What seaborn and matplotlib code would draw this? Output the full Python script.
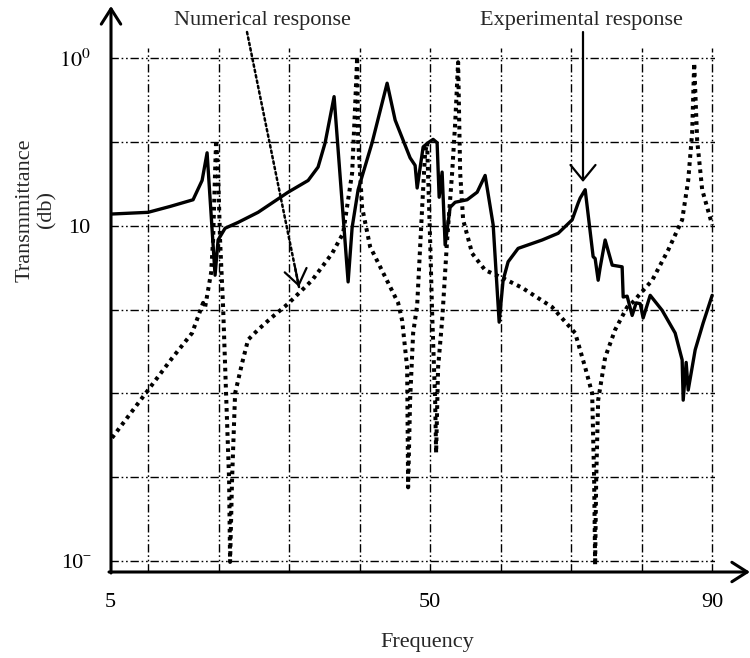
import numpy as np
import pandas as pd
import matplotlib
matplotlib.use("Agg")
import matplotlib.pyplot as plt
import seaborn as sns

# ---- data (frequency, log10 transmittance) ----
exp_freq = [4.89, 10.00, 13.12, 16.38, 17.66, 18.37, 19.50, 19.93, 20.92, 22.77, 25.60,
            29.86, 32.70, 34.11, 35.11, 36.38, 38.37, 38.94, 39.79, 41.77, 43.90,
            45.04, 47.16, 47.87, 48.16, 49.01, 49.72, 50.43, 50.99, 51.28, 51.70,
            52.13, 52.84, 53.55, 55.25, 56.67, 57.80, 58.94, 59.79, 60.35, 61.06,
            62.48, 65.89, 68.16, 70.14, 70.99, 71.28, 71.99, 73.12, 73.40, 73.83,
            74.11, 74.82, 75.82, 77.23, 77.38, 77.94, 78.65, 79.22, 79.79, 80.21,
            81.21, 82.91, 84.75, 85.74, 85.89, 86.31, 86.60, 87.59, 88.72, 90.00]
exp_log = [4.14, 4.16, 4.23, 4.31, 4.54, 4.87, 3.41, 3.83, 3.97, 4.04, 4.16,
           4.40, 4.54, 4.70, 4.99, 5.54, 3.33, 3.98, 4.43, 4.99, 5.70,
           5.26, 4.81, 4.72, 4.45, 4.94, 4.99, 5.03, 4.99, 4.34, 4.64,
           3.77, 4.22, 4.28, 4.31, 4.40, 4.60, 4.01, 2.85, 3.35, 3.57,
           3.73, 3.83, 3.91, 4.07, 4.27, 4.33, 4.43, 3.63, 3.61, 3.35,
           3.50, 3.83, 3.53, 3.51, 3.15, 3.16, 2.93, 3.08, 3.07, 2.90,
           3.17, 2.99, 2.72, 2.40, 1.92, 2.37, 2.04, 2.52, 2.84, 3.17]

num_freq = [4.89, 10.00, 13.40, 16.24, 17.80, 18.09, 18.94, 19.22, 19.50, 19.65,
            19.93, 20.21, 20.64, 21.06, 21.49, 21.63, 21.91, 22.34, 23.33, 24.18,
            25.60, 27.59, 29.86, 33.26, 36.10, 37.66, 38.94, 39.36, 39.65, 39.79,
            40.35, 41.49, 44.04, 45.46, 46.03, 46.74, 46.88, 47.16, 47.59, 48.16,
            48.87, 49.29, 49.57, 50.00, 50.28, 50.71, 50.85, 51.13, 51.70, 51.84,
            52.41, 53.12, 53.55, 53.97, 54.26, 54.68, 55.96, 57.80, 60.21, 63.05,
            67.30, 70.57, 71.99, 72.98, 73.26, 73.40, 73.55, 73.83, 74.82, 76.24,
            77.94, 78.65, 81.49, 83.76, 85.74, 86.60, 87.16, 87.45, 87.87, 88.58, 90.00]
num_log = [1.47, 2.04, 2.42, 2.72, 3.08, 3.03, 3.44, 3.83, 4.63, 5.02,
           4.63, 3.83, 3.03, 2.00, 0.97, -0.01, 0.97, 2.00, 2.36, 2.64,
           2.76, 2.91, 3.07, 3.35, 3.67, 3.91, 4.63, 5.42, 6.01, 5.02,
           4.22, 3.75, 3.32, 3.08, 2.87, 2.31, 0.88, 1.92, 2.72, 3.05,
           4.22, 4.87, 4.99, 3.83, 2.97, 1.92, 1.29, 2.31, 2.87, 3.05,
           3.83, 4.63, 5.22, 5.95, 4.63, 4.07, 3.67, 3.47, 3.38, 3.26,
           3.03, 2.72, 2.31, 2.00, 0.97, -0.05, 0.97, 1.92, 2.43, 2.76,
           3.03, 3.08, 3.35, 3.71, 4.07, 4.54, 5.11, 5.94, 5.02, 4.43, 4.01]

grid_x = [10, 20, 30, 40, 50, 60, 70, 80, 90]
grid_level = [0, 1, 2, 3, 4, 5, 6]
x_ticks = [4.6, 50, 90]
x_tick_labels = ["5", "50", "90"]
y_ticks = [0, 4, 6]
y_tick_labels = ["10\u02c9", "10", r"$10^{0}$"]

# offset so that top grid line is 10^0
OFFSET = 6

sns.set_theme(style="white")
plt.rcParams["font.family"] = ["Liberation Serif", "DejaVu Serif"]
plt.rcParams["mathtext.fontset"] = "stix"

fig = plt.figure(figsize=(7.5, 6.58), dpi=100)
W, H = 750, 658
ax = fig.add_axes([110 / W, 1 - 572 / H, (715 - 110) / W, (572 - 48) / H])

df_exp = pd.DataFrame({"Frequency": exp_freq,
                       "T": 10.0 ** (np.array(exp_log) - OFFSET)})
df_num = pd.DataFrame({"Frequency": num_freq,
                       "T": 10.0 ** (np.array(num_log) - OFFSET)})

ax.set_yscale("log")
ax.set_xlim(4.6, 90.4)
ax.set_ylim(10 ** (-0.13 - OFFSET), 10 ** (6.12 - OFFSET))

grid_dash = (0, (6, 2, 1.2, 2, 1.2, 2))
for gx in grid_x:
    ax.axvline(gx, color="black", lw=1.0, linestyle=grid_dash, zorder=1)
for gl in grid_level:
    ax.axhline(10.0 ** (gl - OFFSET), color="black", lw=1.0, linestyle=grid_dash, zorder=1)

sns.lineplot(data=df_num, x="Frequency", y="T", ax=ax, sort=False, estimator=None,
             color="black", lw=2.9, linestyle=(0, (0.9, 1.1)), zorder=3)
sns.lineplot(data=df_exp, x="Frequency", y="T", ax=ax, sort=False, estimator=None,
             color="black", lw=2.4, zorder=4)

for s in ax.spines.values():
    s.set_visible(False)
ax.grid(False)

ax.set_xticks(x_ticks)
ax.set_xticklabels(x_tick_labels)
ax.set_yticks([10.0 ** (v - OFFSET) for v in y_ticks])
ax.set_yticklabels(y_tick_labels)
ax.yaxis.set_minor_locator(matplotlib.ticker.NullLocator())
ax.tick_params(axis="x", length=0, pad=15, labelsize=16, colors="black")
ax.tick_params(axis="y", length=0, pad=14, labelsize=16, colors="black")
ax.set_xlabel("")
ax.set_ylabel("")

# axis arrows
def fp(x, y):
    return (x, H - y)

ax.annotate("", xy=fp(111, 6), xytext=fp(111, 573), xycoords="figure pixels",
            textcoords="figure pixels",
            arrowprops=dict(arrowstyle="->,head_length=0.55,head_width=0.35",
                            lw=2.2, color="black", mutation_scale=20,
                            shrinkA=0, shrinkB=0))
ax.annotate("", xy=fp(750, 572), xytext=fp(109, 572), xycoords="figure pixels",
            textcoords="figure pixels",
            arrowprops=dict(arrowstyle="->,head_length=0.55,head_width=0.35",
                            lw=2.2, color="black", mutation_scale=20,
                            shrinkA=0, shrinkB=0))

# labels
fig.text(36 / W, 1 - 210 / H, "Transmmittance\n(db)", rotation=90, ha="center",
         va="center", fontsize=16, multialignment="center")
fig.text(427 / W, 1 - 643 / H, "Frequency", ha="center", va="center", fontsize=16)

# annotations
fig.text(262 / W, 1 - 20 / H, "Numerical response", ha="center", va="center", fontsize=16)
fig.text(581 / W, 1 - 20 / H, "Experimental response", ha="center", va="center", fontsize=16)

ax.annotate("", xy=fp(299, 287), xytext=fp(247, 32), xycoords="figure pixels",
            textcoords="figure pixels",
            arrowprops=dict(arrowstyle="-", lw=1.8, linestyle=(0, (1, 1.2)),
                            color="black", shrinkA=0, shrinkB=0))
ax.annotate("", xy=fp(299, 287), xytext=fp(295, 267), xycoords="figure pixels",
            textcoords="figure pixels",
            arrowprops=dict(arrowstyle="->,head_length=0.55,head_width=0.4",
                            lw=1.6, color="black", mutation_scale=20,
                            shrinkA=0, shrinkB=0))
ax.annotate("", xy=fp(583, 182), xytext=fp(583, 32), xycoords="figure pixels",
            textcoords="figure pixels",
            arrowprops=dict(arrowstyle="->,head_length=0.55,head_width=0.45",
                            lw=1.6, color="black", mutation_scale=20,
                            shrinkA=0, shrinkB=0))

fig.savefig("out.png", dpi=100)
